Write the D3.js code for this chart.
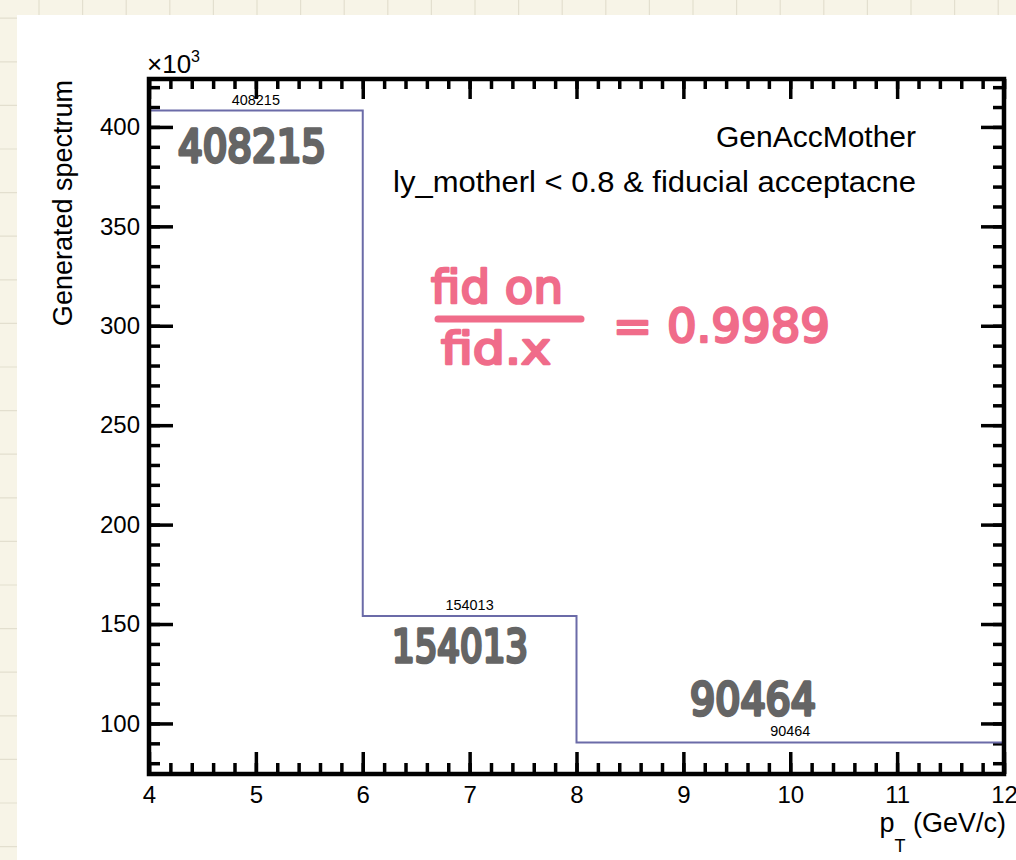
<!DOCTYPE html>
<html>
<head>
<meta charset="utf-8">
<script src="https://cdn.jsdelivr.net/npm/d3@7"></script>
<style>
  body { margin: 0; background: #f7f4e7; }
  svg { display: block; }
  text { font-family: "Liberation Sans", Arial, Helvetica, sans-serif; }
  .hand { font-family: "DejaVu Sans", sans-serif; font-weight: normal; stroke-linejoin: round; stroke-linecap: round; }
</style>
</head>
<body>
<svg id="chart" width="1016" height="860"></svg>
<script>
// histogram bins (pT in GeV/c) and counts
const binEdges = [4, 6, 8, 12];
const binCounts = [408215, 154013, 90464];

const xMajorTicks = [4, 5, 6, 7, 8, 9, 10, 11, 12];
const yMajorTicks = [100000, 150000, 200000, 250000, 300000, 350000, 400000];

const xTitle = "p";
const xTitleSub = "T";
const xTitleUnit = " (GeV/c)";
const yTitle = "Generated spectrum";
const headerLines = ["GenAccMother", "ly_motherl < 0.8 & fiducial acceptacne"];

// handwritten notes on the screenshot
const grayNotes = ["408215", "154013", "90464"];
const pinkNumerator = "fid on";
const pinkDenominator = "fid.x";
const pinkResult = "= 0.9989";

const W = 1016, H = 860;
const frame = { left: 149, right: 1004, top: 79, bottom: 774 };

const svg = d3.select("#chart");

// notebook background + grid
const bg = svg.append("g");
bg.append("rect").attr("width", W).attr("height", H).attr("fill", "#f7f4e7");
d3.range(39, W, 43.6).forEach(gx => {
  bg.append("line").attr("x1", gx).attr("x2", gx).attr("y1", 0).attr("y2", H)
    .attr("stroke", "#e3dfcf").attr("stroke-width", 1.2);
});
d3.range(18.2, H, 43.6).forEach(gy => {
  bg.append("line").attr("x1", 0).attr("x2", W).attr("y1", gy).attr("y2", gy)
    .attr("stroke", "#e3dfcf").attr("stroke-width", 1.2);
});
bg.append("rect").attr("x", 17).attr("y", 15).attr("width", W - 17).attr("height", H - 15)
  .attr("fill", "#ffffff");

// scales (ROOT style: 5% margin around min/max)
const vMin = d3.min(binCounts), vMax = d3.max(binCounts);
const margin = 0.05 * (vMax - vMin);
const x = d3.scaleLinear().domain([binEdges[0], binEdges[binEdges.length - 1]])
  .range([frame.left, frame.right]);
const y = d3.scaleLinear().domain([vMin - margin, vMax + margin])
  .range([frame.bottom, frame.top]);

const xMinor = d3.range(4, 12.0001, 0.2).map(v => +v.toFixed(2));
const yMinor = d3.range(80000, 424000, 10000);

function styleAxis(g) {
  g.select(".domain").remove();
  g.selectAll(".tick line").attr("stroke", "#000").attr("stroke-width", 3.5);
  g.selectAll(".tick text").attr("fill", "#000").style("font-size", "24px")
    .style("font-family", "'Liberation Sans', Arial, sans-serif");
}

// bottom
svg.append("g").attr("transform", `translate(0,${frame.bottom})`)
  .call(d3.axisBottom(x).tickValues(xMinor).tickSize(-11).tickFormat(""))
  .call(styleAxis);
svg.append("g").attr("transform", `translate(0,${frame.bottom})`)
  .call(d3.axisBottom(x).tickValues(xMajorTicks).tickSize(-22).tickPadding(12).tickFormat(d3.format("d")))
  .call(styleAxis);
// top
svg.append("g").attr("transform", `translate(0,${frame.top})`)
  .call(d3.axisTop(x).tickValues(xMinor).tickSize(-10).tickFormat(""))
  .call(styleAxis);
svg.append("g").attr("transform", `translate(0,${frame.top})`)
  .call(d3.axisTop(x).tickValues(xMajorTicks).tickSize(-20).tickFormat(""))
  .call(styleAxis);
// left
svg.append("g").attr("transform", `translate(${frame.left},0)`)
  .call(d3.axisLeft(y).tickValues(yMinor).tickSize(-11).tickFormat(""))
  .call(styleAxis);
svg.append("g").attr("transform", `translate(${frame.left},0)`)
  .call(d3.axisLeft(y).tickValues(yMajorTicks).tickSize(-24).tickPadding(9).tickFormat(d => d / 1000))
  .call(styleAxis);
// right
svg.append("g").attr("transform", `translate(${frame.right},0)`)
  .call(d3.axisRight(y).tickValues(yMinor).tickSize(-11).tickFormat(""))
  .call(styleAxis);
svg.append("g").attr("transform", `translate(${frame.right},0)`)
  .call(d3.axisRight(y).tickValues(yMajorTicks).tickSize(-23).tickFormat(""))
  .call(styleAxis);

// histogram step line
const stepData = binEdges.map((e, i) => ({ x: e, v: binCounts[Math.min(i, binCounts.length - 1)] }));
const line = d3.line().x(d => x(d.x)).y(d => y(d.v)).curve(d3.curveStepAfter);
svg.append("path").attr("d", line(stepData))
  .attr("fill", "none").attr("stroke", "#6b6ba8").attr("stroke-width", 2);

// bin content labels (TEXT option)
svg.append("g").selectAll("text").data(binCounts).join("text")
  .attr("x", (d, i) => x((binEdges[i] + binEdges[i + 1]) / 2))
  .attr("y", d => y(d) - 6)
  .attr("text-anchor", "middle")
  .style("font-size", "14.4px")
  .text(d => d);

// frame
svg.append("rect")
  .attr("x", frame.left).attr("y", frame.top)
  .attr("width", frame.right - frame.left).attr("height", frame.bottom - frame.top)
  .attr("fill", "none").attr("stroke", "#000").attr("stroke-width", 4.5);

// axis titles
const xt = svg.append("text").attr("x", 1006).attr("y", 832)
  .attr("text-anchor", "end").style("font-size", "27px");
xt.append("tspan").text(xTitle);
xt.append("tspan").attr("dy", 20).style("font-size", "18px").text(xTitleSub);
xt.append("tspan").attr("dy", -20).text(xTitleUnit);

svg.append("text")
  .attr("transform", "translate(72,80) rotate(-90)")
  .attr("text-anchor", "end")
  .style("font-size", "27px")
  .text(yTitle);

const exp = svg.append("text").attr("x", 147).attr("y", 73).style("font-size", "26px");
exp.append("tspan").text("\u00d710");
exp.append("tspan").attr("dy", -11).style("font-size", "16px").text("3");

// header
const headerRight = 916;
const headerWidths = [200, 523];
svg.append("g").selectAll("text").data(headerLines).join("text")
  .attr("x", (d, i) => headerRight - headerWidths[i]).attr("y", (d, i) => 147 + i * 45)
  .attr("textLength", (d, i) => headerWidths[i]).attr("lengthAdjust", "spacingAndGlyphs")
  .style("font-size", "30px")
  .text(d => d);

// handwritten gray notes
const grayPos = [[178, 162, 148], [392, 662, 136], [690, 715, 126]];
svg.append("g").selectAll("text").data(grayNotes).join("text")
  .attr("class", "hand")
  .attr("x", (d, i) => grayPos[i][0]).attr("y", (d, i) => grayPos[i][1])
  .attr("textLength", (d, i) => grayPos[i][2]).attr("lengthAdjust", "spacingAndGlyphs")
  .style("font-size", "44px")
  .attr("fill", "#656565").attr("stroke", "#656565").attr("stroke-width", 3.5)
  .text(d => d);

// handwritten pink ratio
const pink = "#f06c8a";
const hw = svg.append("g").attr("fill", pink).attr("stroke", pink).attr("stroke-width", 2.5);
hw.append("text").attr("class", "hand").attr("x", 431).attr("y", 303)
  .attr("textLength", 132).attr("lengthAdjust", "spacingAndGlyphs")
  .style("font-size", "46px").text(pinkNumerator);
hw.append("line").attr("x1", 438).attr("x2", 581).attr("y1", 319).attr("y2", 319)
  .attr("stroke-width", 7).attr("stroke-linecap", "round");
hw.append("text").attr("class", "hand").attr("x", 441).attr("y", 364)
  .attr("textLength", 110).attr("lengthAdjust", "spacingAndGlyphs")
  .style("font-size", "44px").text(pinkDenominator);
hw.append("text").attr("class", "hand").attr("x", 613).attr("y", 342)
  .attr("textLength", 217).attr("lengthAdjust", "spacingAndGlyphs")
  .style("font-size", "46px").text(pinkResult);
</script>
</body>
</html>
